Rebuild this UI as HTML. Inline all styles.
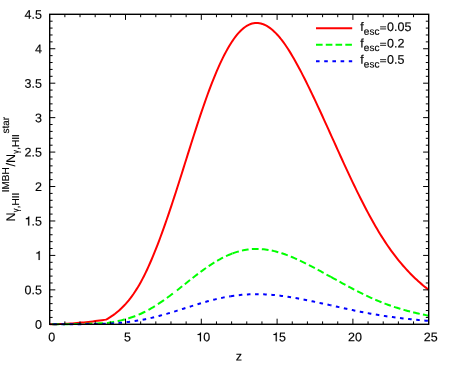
<!DOCTYPE html>
<html><head><meta charset="utf-8"><title>plot</title>
<style>
html,body{margin:0;padding:0;background:#fff;}
svg{display:block;will-change:transform;transform:translateZ(0);}
text{font-family:"Liberation Sans",sans-serif;font-size:12.5px;fill:#000;stroke:#000;stroke-width:0.15px;text-rendering:geometricPrecision;}
.s{font-size:10px;}
</style></head><body>
<svg width="458" height="365" viewBox="0 0 458 365">
<rect width="458" height="365" fill="#fff"/>
<g fill="none" stroke-width="2" stroke-linejoin="round">
<path d="M49.70,324.30 L51.97,324.29 L54.25,324.25 L56.52,324.20 L58.80,324.12 L61.07,324.04 L63.34,323.93 L65.62,323.82 L67.89,323.69 L70.17,323.54 L72.44,323.38 L74.71,323.21 L76.99,323.03 L79.26,322.83 L81.54,322.62 L83.81,322.40 L86.08,322.16 L88.36,321.92 L90.63,321.66 L92.91,321.39 L95.18,321.11 L97.45,320.82 L99.73,320.51 L102.00,320.20 L104.28,319.87 L106.00,319.62 L107.52,318.78 L109.03,317.89 L110.55,316.95 L112.06,315.94 L113.58,314.88 L115.10,313.76 L116.61,312.56 L118.13,311.30 L119.64,309.96 L121.16,308.54 L122.68,307.04 L124.19,305.46 L125.71,303.83 L127.22,302.10 L128.74,300.28 L130.26,298.36 L131.77,296.35 L133.29,294.22 L134.80,292.00 L136.32,289.66 L137.84,287.21 L139.35,284.64 L140.87,281.95 L142.38,279.13 L143.90,276.19 L145.42,273.14 L146.93,269.96 L148.45,266.67 L149.96,263.27 L151.48,259.77 L153.00,256.16 L154.51,252.46 L156.03,248.66 L157.54,244.78 L159.06,240.80 L160.58,236.74 L162.09,232.61 L163.61,228.40 L165.12,224.12 L166.64,219.77 L168.16,215.36 L169.67,210.89 L171.19,206.36 L172.70,201.78 L174.22,197.15 L175.74,192.48 L177.25,187.77 L178.77,183.02 L180.28,178.25 L181.80,173.45 L183.32,168.64 L184.83,163.82 L186.35,159.00 L187.86,154.17 L189.38,149.36 L190.90,144.56 L192.41,139.78 L193.93,135.03 L195.44,130.32 L196.96,125.64 L198.48,121.01 L199.99,116.43 L201.51,111.91 L203.03,107.45 L204.55,103.07 L206.07,98.76 L207.59,94.53 L209.11,90.39 L210.63,86.35 L212.16,82.40 L213.69,78.54 L215.22,74.79 L216.75,71.14 L218.30,67.60 L219.84,64.17 L221.39,60.85 L222.95,57.65 L224.51,54.57 L226.08,51.61 L227.65,48.77 L229.23,46.07 L230.81,43.50 L232.38,41.06 L233.96,38.78 L235.53,36.64 L237.09,34.66 L238.64,32.85 L240.19,31.21 L241.72,29.73 L243.24,28.41 L244.75,27.24 L246.24,26.22 L247.73,25.35 L249.20,24.61 L250.67,24.01 L252.13,23.55 L253.59,23.22 L255.04,23.02 L256.50,22.95 L257.96,23.00 L259.42,23.19 L260.88,23.50 L262.36,23.93 L263.83,24.49 L265.31,25.16 L266.80,25.96 L268.29,26.87 L269.79,27.90 L271.29,29.05 L272.79,30.31 L274.30,31.68 L275.81,33.16 L277.32,34.75 L278.83,36.45 L280.34,38.25 L281.85,40.16 L283.36,42.17 L284.88,44.28 L286.39,46.48 L287.90,48.78 L289.41,51.15 L290.93,53.61 L292.44,56.15 L293.95,58.75 L295.46,61.42 L296.97,64.15 L298.47,66.94 L299.98,69.78 L301.49,72.66 L302.99,75.59 L304.50,78.56 L306.00,81.56 L307.50,84.59 L309.00,87.66 L310.50,90.75 L312.00,93.86 L313.50,97.01 L315.00,100.17 L316.50,103.36 L317.99,106.56 L319.49,109.79 L320.98,113.03 L322.47,116.29 L323.97,119.56 L325.46,122.85 L326.96,126.14 L328.45,129.44 L329.94,132.75 L331.44,136.07 L332.94,139.39 L334.44,142.71 L335.94,146.03 L337.44,149.35 L338.94,152.67 L340.45,155.99 L341.96,159.29 L343.47,162.59 L344.98,165.88 L346.49,169.15 L348.01,172.41 L349.53,175.66 L351.05,178.88 L352.58,182.09 L354.11,185.27 L355.63,188.44 L357.16,191.57 L358.70,194.68 L360.23,197.75 L361.77,200.80 L363.30,203.81 L364.84,206.79 L366.38,209.73 L367.92,212.63 L369.45,215.49 L370.99,218.30 L372.53,221.07 L374.07,223.80 L375.60,226.47 L377.14,229.10 L378.68,231.67 L380.21,234.19 L381.74,236.65 L383.28,239.06 L384.81,241.41 L386.34,243.71 L387.87,245.96 L389.40,248.15 L390.92,250.30 L392.45,252.39 L393.98,254.44 L395.50,256.44 L397.02,258.39 L398.55,260.29 L400.07,262.15 L401.59,263.97 L403.11,265.74 L404.63,267.46 L406.15,269.15 L407.67,270.79 L409.19,272.40 L410.71,273.96 L412.22,275.48 L413.74,276.97 L415.26,278.42 L416.78,279.84 L418.29,281.22 L419.81,282.56 L421.33,283.87 L422.84,285.15 L424.36,286.40 L425.87,287.61 L428.70,289.80" stroke="#ff0000"/>
<path d="M49.70,324.30 L51.97,324.30 L54.25,324.29 L56.52,324.27 L58.80,324.26 L61.07,324.23 L63.34,324.21 L65.62,324.18 L67.89,324.15 L70.17,324.11 L72.44,324.07 L74.71,324.03 L76.99,323.98 L79.26,323.93 L81.54,323.88 L83.81,323.82 L86.08,323.77 L88.36,323.70 L90.63,323.64 L92.91,323.57 L95.18,323.50 L97.45,323.43 L99.73,323.35 L102.00,323.27 L104.28,323.19 L106.00,323.13 L107.52,322.92 L109.03,322.70 L110.55,322.46 L112.06,322.21 L113.58,321.95 L115.10,321.66 L116.61,321.37 L118.13,321.05 L119.64,320.71 L121.16,320.36 L122.68,319.99 L124.19,319.59 L125.71,319.18 L127.22,318.75 L128.74,318.30 L130.26,317.82 L131.77,317.31 L133.29,316.78 L134.80,316.22 L136.32,315.64 L137.84,315.03 L139.35,314.38 L140.87,313.71 L142.38,313.01 L143.90,312.27 L145.42,311.51 L146.93,310.72 L148.45,309.89 L149.96,309.04 L151.48,308.17 L153.00,307.27 L154.51,306.34 L156.03,305.39 L157.54,304.42 L159.06,303.43 L160.58,302.41 L162.09,301.38 L163.61,300.32 L165.12,299.25 L166.64,298.17 L168.16,297.06 L169.67,295.95 L171.19,294.81 L172.70,293.67 L174.22,292.51 L175.04,291.88" stroke="#00ff00" stroke-dasharray="7.4 3.58" stroke-dashoffset="8.71"/>
<path d="M175.04,291.88 L175.74,291.35 L177.25,290.17 L178.77,288.98 L180.28,287.79 L181.80,286.59 L183.32,285.39 L184.83,284.18 L186.35,282.97 L187.86,281.77 L189.38,280.56 L190.90,279.37 L192.41,278.17 L193.93,276.98 L195.44,275.80 L196.96,274.63 L198.48,273.48 L199.99,272.33 L201.51,271.20 L203.03,270.09 L204.55,268.99 L206.07,267.91 L207.59,266.86 L209.11,265.82 L210.63,264.81 L212.16,263.82 L213.69,262.86 L215.22,261.92 L216.75,261.01 L218.30,260.13 L219.84,259.27 L221.39,258.44 L222.95,257.64 L224.51,256.87 L226.08,256.13 L227.65,255.42 L229.23,254.74 L230.81,254.10 L232.38,253.49 L232.40,253.48" stroke="#00ff00" stroke-dasharray="6.75 3.25" stroke-dashoffset="7.62"/>
<path d="M232.40,253.48 L233.96,252.92 L235.53,252.39 L237.09,251.89 L238.64,251.44 L240.19,251.03 L241.72,250.66 L243.24,250.33 L244.75,250.03 L246.24,249.78 L247.73,249.56 L249.20,249.38 L250.67,249.23 L252.13,249.11 L253.59,249.03 L255.04,248.98 L256.50,248.96 L257.96,248.98 L259.42,249.02 L260.88,249.10 L262.36,249.21 L263.83,249.35 L265.31,249.52 L266.80,249.71 L268.29,249.94 L269.79,250.20 L271.29,250.49 L272.79,250.80 L274.30,251.14 L275.81,251.51 L277.32,251.91 L278.83,252.34 L280.34,252.79 L281.85,253.26 L283.36,253.77 L284.88,254.29 L286.39,254.85 L287.90,255.42 L289.41,256.01 L290.93,256.63 L292.44,257.26 L293.95,257.91 L295.46,258.58 L296.97,259.26 L298.47,259.96 L299.98,260.67 L301.49,261.39 L302.99,262.12 L304.50,262.87 L306.00,263.62 L307.50,264.37 L309.00,265.14 L310.50,265.91 L312.00,266.69 L313.50,267.48 L315.00,268.27 L316.50,269.06 L317.99,269.87 L319.49,270.67 L320.98,271.48 L322.47,272.30 L323.97,273.12 L325.46,273.94 L326.96,274.76 L328.45,275.59 L329.94,276.41 L330.80,276.89" stroke="#00ff00" stroke-dasharray="6.75 3.25" stroke-dashoffset="0.00"/>
<path d="M330.80,276.89 L331.44,277.24 L332.94,278.07 L334.44,278.90 L335.94,279.73 L337.44,280.56 L338.94,281.39 L340.45,282.22 L341.96,283.05 L343.47,283.87 L344.98,284.69 L346.49,285.51 L348.01,286.33 L349.53,287.14 L351.05,287.95 L352.58,288.75 L354.11,289.54 L355.63,290.33 L357.16,291.12 L358.70,291.89 L360.23,292.66 L361.77,293.42 L363.30,294.18 L364.84,294.92 L366.38,295.66 L367.92,296.38 L369.45,297.10 L370.99,297.80 L372.53,298.49 L374.07,299.17 L375.60,299.84 L377.14,300.50 L378.68,301.14 L380.21,301.77 L381.74,302.39 L383.28,302.99 L384.81,303.58 L386.34,304.15 L387.87,304.71 L389.40,305.26 L390.92,305.80 L392.45,306.32 L393.98,306.83 L395.50,307.33 L397.02,307.82 L398.55,308.30 L400.07,308.76 L401.59,309.22 L403.11,309.66 L404.63,310.09 L406.15,310.51 L407.67,310.92 L409.19,311.32 L410.71,311.71 L412.22,312.10 L413.74,312.47 L415.26,312.83 L416.78,313.18 L418.29,313.53 L419.81,313.87 L421.33,314.19 L422.84,314.51 L424.36,314.82 L425.87,315.13 L428.70,315.67" stroke="#00ff00" stroke-dasharray="6.75 3.25" stroke-dashoffset="0.00"/>
<path d="M49.70,324.30 L51.97,324.30 L54.25,324.29 L56.52,324.29 L58.80,324.28 L61.07,324.27 L63.34,324.26 L65.62,324.25 L67.89,324.24 L70.17,324.22 L72.44,324.21 L74.71,324.19 L76.99,324.17 L79.26,324.15 L81.54,324.13 L83.81,324.11 L86.08,324.09 L88.36,324.06 L90.63,324.04 L92.91,324.01 L95.18,323.98 L97.45,323.95 L99.73,323.92 L102.00,323.89 L104.28,323.86 L106.00,323.83 L107.52,323.75 L109.03,323.66 L110.55,323.56 L112.06,323.46 L113.58,323.36 L115.10,323.25 L116.61,323.13 L118.13,323.00 L119.64,322.87 L121.16,322.72 L122.68,322.57 L124.19,322.42 L125.71,322.25 L127.22,322.08 L128.74,321.90 L130.26,321.71 L131.77,321.50 L133.29,321.29 L134.80,321.07 L136.32,320.84 L137.84,320.59 L139.35,320.33 L140.87,320.06 L142.38,319.78 L143.90,319.49 L145.42,319.18 L146.93,318.87 L148.45,318.54 L149.96,318.20 L151.48,317.85 L153.00,317.49 L154.51,317.12 L156.03,316.74 L157.54,316.35 L159.06,315.95 L160.58,315.54 L162.09,315.13 L163.61,314.71 L165.12,314.28 L166.64,313.85 L168.16,313.41 L169.67,312.96 L171.19,312.51 L172.70,312.05 L174.22,311.59 L175.74,311.12 L177.25,310.65 L178.77,310.17 L180.28,309.70 L181.80,309.22 L183.32,308.73 L184.83,308.25 L186.35,307.77 L187.86,307.29 L189.38,306.81 L190.90,306.33 L192.41,305.85 L193.93,305.37 L195.44,304.90 L196.96,304.43 L198.48,303.97 L199.99,303.51 L201.51,303.06 L203.03,302.62 L204.55,302.18 L206.07,301.75 L207.59,301.32 L209.11,300.91 L210.63,300.50 L212.16,300.11 L213.69,299.72 L215.22,299.35 L216.75,298.98 L218.30,298.63 L219.84,298.29 L221.39,297.96 L222.95,297.63 L224.51,297.33 L226.08,297.03 L227.65,296.75 L229.23,296.48 L230.70,296.24" stroke="#0000ff" stroke-dasharray="3.6 4.55" stroke-dashoffset="4.60"/>
<path d="M230.70,296.24 L230.81,296.22 L232.38,295.98 L233.96,295.75 L235.53,295.53 L237.09,295.34 L238.64,295.16 L240.19,294.99 L241.72,294.84 L243.24,294.71 L244.75,294.59 L246.24,294.49 L247.73,294.40 L249.20,294.33 L250.67,294.27 L252.13,294.22 L253.59,294.19 L255.04,294.17 L256.50,294.16 L257.96,294.17 L259.42,294.19 L260.88,294.22 L262.36,294.26 L263.83,294.32 L265.31,294.39 L266.80,294.47 L268.29,294.56 L269.79,294.66 L271.29,294.77 L272.79,294.90 L274.30,295.04 L275.81,295.19 L277.32,295.34 L278.83,295.51 L280.34,295.69 L281.85,295.89 L283.36,296.09 L284.88,296.30 L286.39,296.52 L287.90,296.75 L289.41,296.99 L290.93,297.23 L292.44,297.48 L293.95,297.74 L295.46,298.01 L296.97,298.29 L298.47,298.56 L299.98,298.85 L301.49,299.14 L302.99,299.43 L304.50,299.73 L306.00,300.03 L307.50,300.33 L309.00,300.64 L310.50,300.94 L312.00,301.26 L313.50,301.57 L315.00,301.89 L316.50,302.21 L317.99,302.53 L319.49,302.85 L320.98,303.17 L322.47,303.50 L323.97,303.83 L325.46,304.15 L326.96,304.48 L328.45,304.81 L329.94,305.15 L330.80,305.33" stroke="#0000ff" stroke-dasharray="3.6 4.55" stroke-dashoffset="0.00"/>
<path d="M330.80,305.33 L331.44,305.48 L332.94,305.81 L334.44,306.14 L335.94,306.47 L337.44,306.81 L338.94,307.14 L340.45,307.47 L341.96,307.80 L343.47,308.13 L344.98,308.46 L346.49,308.79 L348.01,309.11 L349.53,309.44 L351.05,309.76 L352.58,310.08 L354.11,310.40 L355.63,310.71 L357.16,311.03 L358.70,311.34 L360.23,311.65 L361.77,311.95 L363.30,312.25 L364.84,312.55 L366.38,312.84 L367.92,313.13 L369.45,313.42 L370.99,313.70 L372.53,313.98 L374.07,314.25 L375.60,314.52 L377.14,314.78 L378.68,315.04 L380.21,315.29 L381.74,315.53 L383.28,315.78 L384.81,316.01 L386.34,316.24 L387.87,316.47 L389.40,316.69 L390.92,316.90 L392.45,317.11 L393.98,317.31 L395.50,317.51 L397.02,317.71 L398.55,317.90 L400.07,318.09 L401.59,318.27 L403.11,318.44 L404.63,318.62 L406.15,318.78 L407.67,318.95 L409.19,319.11 L410.71,319.27 L412.22,319.42 L413.74,319.57 L415.26,319.71 L416.78,319.85 L418.29,319.99 L419.81,320.13 L421.33,320.26 L422.84,320.38 L424.36,320.51 L425.87,320.63 L428.70,320.85" stroke="#0000ff" stroke-dasharray="3.6 4.55" stroke-dashoffset="2.95"/>
<path d="M316,28.2 H352.2" stroke="#ff0000"/>
<path d="M316,44.7 H352.2" stroke="#00ff00" stroke-dasharray="6.6 3.17"/>
<path d="M316,61.3 H352.2" stroke="#0000ff" stroke-dasharray="3.6 4.6"/>
</g>
<path d="M64.86,324.3 v-2.9 M64.86,14.3 v2.9 M80.02,324.3 v-2.9 M80.02,14.3 v2.9 M95.18,324.3 v-2.9 M95.18,14.3 v2.9 M110.34,324.3 v-2.9 M110.34,14.3 v2.9 M125.50,324.3 v-5.6 M125.50,14.3 v5.6 M140.66,324.3 v-2.9 M140.66,14.3 v2.9 M155.82,324.3 v-2.9 M155.82,14.3 v2.9 M170.98,324.3 v-2.9 M170.98,14.3 v2.9 M186.14,324.3 v-2.9 M186.14,14.3 v2.9 M201.30,324.3 v-5.6 M201.30,14.3 v5.6 M216.46,324.3 v-2.9 M216.46,14.3 v2.9 M231.62,324.3 v-2.9 M231.62,14.3 v2.9 M246.78,324.3 v-2.9 M246.78,14.3 v2.9 M261.94,324.3 v-2.9 M261.94,14.3 v2.9 M277.10,324.3 v-5.6 M277.10,14.3 v5.6 M292.26,324.3 v-2.9 M292.26,14.3 v2.9 M307.42,324.3 v-2.9 M307.42,14.3 v2.9 M322.58,324.3 v-2.9 M322.58,14.3 v2.9 M337.74,324.3 v-2.9 M337.74,14.3 v2.9 M352.90,324.3 v-5.6 M352.90,14.3 v5.6 M368.06,324.3 v-2.9 M368.06,14.3 v2.9 M383.22,324.3 v-2.9 M383.22,14.3 v2.9 M398.38,324.3 v-2.9 M398.38,14.3 v2.9 M413.54,324.3 v-2.9 M413.54,14.3 v2.9 M49.7,317.41 h2.9 M428.7,317.41 h-2.9 M49.7,310.52 h2.9 M428.7,310.52 h-2.9 M49.7,303.63 h2.9 M428.7,303.63 h-2.9 M49.7,296.74 h2.9 M428.7,296.74 h-2.9 M49.7,289.86 h5.6 M428.7,289.86 h-5.6 M49.7,282.97 h2.9 M428.7,282.97 h-2.9 M49.7,276.08 h2.9 M428.7,276.08 h-2.9 M49.7,269.19 h2.9 M428.7,269.19 h-2.9 M49.7,262.30 h2.9 M428.7,262.30 h-2.9 M49.7,255.41 h5.6 M428.7,255.41 h-5.6 M49.7,248.52 h2.9 M428.7,248.52 h-2.9 M49.7,241.63 h2.9 M428.7,241.63 h-2.9 M49.7,234.74 h2.9 M428.7,234.74 h-2.9 M49.7,227.86 h2.9 M428.7,227.86 h-2.9 M49.7,220.97 h5.6 M428.7,220.97 h-5.6 M49.7,214.08 h2.9 M428.7,214.08 h-2.9 M49.7,207.19 h2.9 M428.7,207.19 h-2.9 M49.7,200.30 h2.9 M428.7,200.30 h-2.9 M49.7,193.41 h2.9 M428.7,193.41 h-2.9 M49.7,186.52 h5.6 M428.7,186.52 h-5.6 M49.7,179.63 h2.9 M428.7,179.63 h-2.9 M49.7,172.74 h2.9 M428.7,172.74 h-2.9 M49.7,165.86 h2.9 M428.7,165.86 h-2.9 M49.7,158.97 h2.9 M428.7,158.97 h-2.9 M49.7,152.08 h5.6 M428.7,152.08 h-5.6 M49.7,145.19 h2.9 M428.7,145.19 h-2.9 M49.7,138.30 h2.9 M428.7,138.30 h-2.9 M49.7,131.41 h2.9 M428.7,131.41 h-2.9 M49.7,124.52 h2.9 M428.7,124.52 h-2.9 M49.7,117.63 h5.6 M428.7,117.63 h-5.6 M49.7,110.74 h2.9 M428.7,110.74 h-2.9 M49.7,103.86 h2.9 M428.7,103.86 h-2.9 M49.7,96.97 h2.9 M428.7,96.97 h-2.9 M49.7,90.08 h2.9 M428.7,90.08 h-2.9 M49.7,83.19 h5.6 M428.7,83.19 h-5.6 M49.7,76.30 h2.9 M428.7,76.30 h-2.9 M49.7,69.41 h2.9 M428.7,69.41 h-2.9 M49.7,62.52 h2.9 M428.7,62.52 h-2.9 M49.7,55.63 h2.9 M428.7,55.63 h-2.9 M49.7,48.74 h5.6 M428.7,48.74 h-5.6 M49.7,41.86 h2.9 M428.7,41.86 h-2.9 M49.7,34.97 h2.9 M428.7,34.97 h-2.9 M49.7,28.08 h2.9 M428.7,28.08 h-2.9 M49.7,21.19 h2.9 M428.7,21.19 h-2.9" stroke="#000" stroke-width="1" fill="none"/>
<rect x="49.7" y="14.3" width="379.0" height="310.0" fill="none" stroke="#000" stroke-width="1.4"/>
<g><text transform="translate(48.22,341.30) rotate(0.05)">0</text><text transform="translate(124.02,341.30) rotate(0.05)">5</text><text transform="translate(196.35,341.30) rotate(0.05)"><tspan style="visibility:hidden">1</tspan>0</text><path d="M0.372,0 L0.283,0 L0.283,0.507 L0.098,0.507 L0.098,0.568 C0.215,0.580 0.285,0.615 0.312,0.709 L0.372,0.709 Z" transform="translate(196.35,341.30) scale(12.5,-12.5)" fill="#000" stroke="#000" stroke-width="0.012"/><text transform="translate(272.15,341.30) rotate(0.05)"><tspan style="visibility:hidden">1</tspan>5</text><path d="M0.372,0 L0.283,0 L0.283,0.507 L0.098,0.507 L0.098,0.568 C0.215,0.580 0.285,0.615 0.312,0.709 L0.372,0.709 Z" transform="translate(272.15,341.30) scale(12.5,-12.5)" fill="#000" stroke="#000" stroke-width="0.012"/><text transform="translate(347.95,341.30) rotate(0.05)">20</text><text transform="translate(423.75,341.30) rotate(0.05)">25</text></g>
<g><text transform="translate(35.05,328.80) rotate(0.05)">0</text><text transform="translate(24.62,294.36) rotate(0.05)">0.5</text><text transform="translate(35.05,259.91) rotate(0.05)"><tspan style="visibility:hidden">1</tspan></text><path d="M0.372,0 L0.283,0 L0.283,0.507 L0.098,0.507 L0.098,0.568 C0.215,0.580 0.285,0.615 0.312,0.709 L0.372,0.709 Z" transform="translate(35.05,259.91) scale(12.5,-12.5)" fill="#000" stroke="#000" stroke-width="0.012"/><text transform="translate(24.62,225.47) rotate(0.05)"><tspan style="visibility:hidden">1</tspan>.5</text><path d="M0.372,0 L0.283,0 L0.283,0.507 L0.098,0.507 L0.098,0.568 C0.215,0.580 0.285,0.615 0.312,0.709 L0.372,0.709 Z" transform="translate(24.62,225.47) scale(12.5,-12.5)" fill="#000" stroke="#000" stroke-width="0.012"/><text transform="translate(35.05,191.02) rotate(0.05)">2</text><text transform="translate(24.62,156.58) rotate(0.05)">2.5</text><text transform="translate(35.05,122.13) rotate(0.05)">3</text><text transform="translate(24.62,87.69) rotate(0.05)">3.5</text><text transform="translate(35.05,53.24) rotate(0.05)">4</text><text transform="translate(24.62,18.80) rotate(0.05)">4.5</text></g>
<text transform="translate(238.8,360.5) rotate(0.05)" text-anchor="middle">z</text>
<g id="leg" style="letter-spacing:0.07px"><text transform="translate(360.3,31.0) rotate(0.05)">f<tspan class="s" dy="3.7">esc</tspan><tspan dy="-3.7" style="visibility:hidden">=</tspan><tspan>0.05</tspan></text><path d="M380.1,26.85 H386.1 M380.1,28.95 H386.1" stroke="#000" stroke-width="0.85" fill="none"/><text transform="translate(360.3,47.4) rotate(0.05)">f<tspan class="s" dy="3.7">esc</tspan><tspan dy="-3.7" style="visibility:hidden">=</tspan><tspan>0.2</tspan></text><path d="M380.1,43.25 H386.1 M380.1,45.35 H386.1" stroke="#000" stroke-width="0.85" fill="none"/><text transform="translate(360.3,63.8) rotate(0.05)">f<tspan class="s" dy="3.7">esc</tspan><tspan dy="-3.7" style="visibility:hidden">=</tspan><tspan>0.5</tspan></text><path d="M380.1,59.65 H386.1 M380.1,61.75 H386.1" stroke="#000" stroke-width="0.85" fill="none"/></g>
<text transform="translate(15.35,221.45) rotate(-90)">N</text>
<text transform="translate(18.6,212.25) rotate(-90) scale(0.74,0.96)" class="s">γ</text>
<text transform="translate(19.0,208.29999999999998) rotate(-90)" class="s">,</text>
<text transform="translate(19.0,205.39999999999998) rotate(-90)" class="s">HII</text>
<text transform="translate(9.0,192.3) rotate(-90)" class="s">IMBH</text>
<text transform="translate(15.35,166.4) rotate(-90)">/</text>
<text transform="translate(15.35,163.0) rotate(-90)">N</text>
<text transform="translate(18.6,153.8) rotate(-90) scale(0.74,0.96)" class="s">γ</text>
<text transform="translate(19.0,149.85) rotate(-90)" class="s">,</text>
<text transform="translate(19.0,146.95) rotate(-90)" class="s">HII</text>
<text transform="translate(9.0,133.5) rotate(-90)" class="s">star</text>
</svg>
</body></html>
